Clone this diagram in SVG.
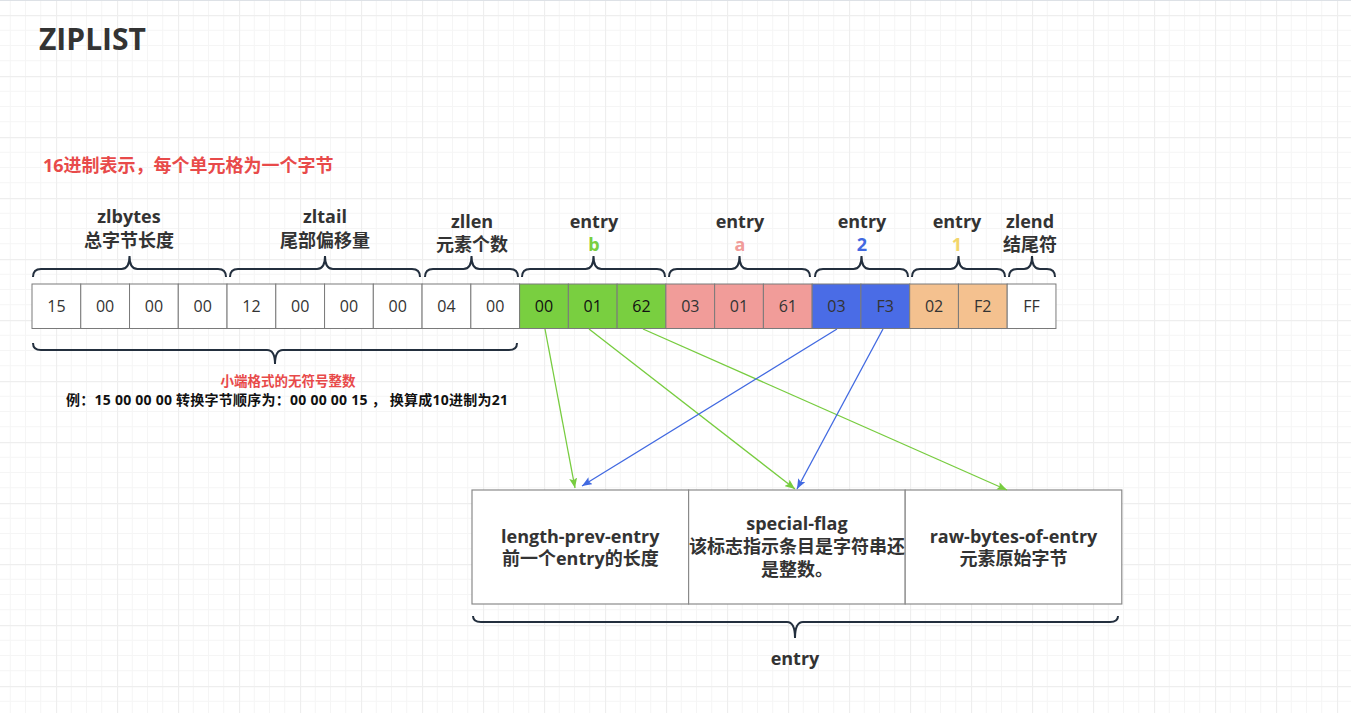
<svg xmlns="http://www.w3.org/2000/svg" width="1351" height="713" viewBox="0 0 1351 713">
<defs>
<pattern id="grid" patternUnits="userSpaceOnUse" x="-5" y="15" width="61" height="61">
<path d="M15.25 0V61M30.5 0V61M45.75 0V61M0 15.25H61M0 30.5H61M0 45.75H61" stroke="#f5f5f5" stroke-width="1" fill="none"/>
<path d="M0.5 0V61M0 0.5H61" stroke="#eeeeee" stroke-width="1.3" fill="none"/>
</pattern>
<marker id="ag" viewBox="0 0 10 8" refX="10" refY="4" markerWidth="10" markerHeight="8" markerUnits="userSpaceOnUse" orient="auto">
<path d="M0 0L10 4L0 8L2 4z" fill="#77CC3F"/>
</marker>
<marker id="ab" viewBox="0 0 10 8" refX="10" refY="4" markerWidth="10" markerHeight="8" markerUnits="userSpaceOnUse" orient="auto">
<path d="M0 0L10 4L0 8L2 4z" fill="#4169E1"/>
</marker>
</defs>
<style>
.cell{stroke:#7a7a7a;stroke-width:1}
.w{fill:#ffffff}.g{fill:#79CF40}.p{fill:#F19C99}.b{fill:#4A6CE6}.o{fill:#F4C18F}
.num{font-family:"Open Sans","Noto Sans",sans-serif;font-size:16px;fill:#333;text-anchor:middle}
.dk{fill:#111}
.lbl{font-family:"Open Sans","Noto Sans CJK SC",sans-serif;font-weight:bold;font-size:18px;fill:#333;text-anchor:middle}
.cg{fill:#79CF40}.cp{fill:#F19C99}.cb{fill:#4169E1}.cy{fill:#F2D56A}
.brace{fill:none;stroke:#232F3E;stroke-width:2}
.box{fill:#ffffff;stroke:#8a8a8a;stroke-width:1.2}
.gl{stroke:#77CC3F;stroke-width:1.3;fill:none;marker-end:url(#ag)}
.bl{stroke:#4169E1;stroke-width:1.3;fill:none;marker-end:url(#ab)}
</style>
<rect x="0" y="0" width="1351" height="713" fill="#ffffff"/>
<rect x="0" y="0" width="1351" height="713" fill="url(#grid)"/>
<line x1="0" y1="0.5" x2="1351" y2="0.5" stroke="#dde1e6" stroke-width="1"/>

<g id="title">
<text x="39" y="50" font-family="'Open Sans',sans-serif" font-weight="bold" font-size="30" fill="#333">ZIPLIST</text>
</g>
<g id="hex-note">
<text x="43" y="172" font-family="'Open Sans','Noto Sans CJK SC',sans-serif" font-weight="bold" font-size="18" fill="#E84A4A">16进制表示，每个单元格为一个字节</text>
</g>

<g id="cells">
<rect class="cell w" x="32" y="284" width="48.76" height="44.5"/>
<rect class="cell w" x="80.76" y="284" width="48.76" height="44.5"/>
<rect class="cell w" x="129.52" y="284" width="48.76" height="44.5"/>
<rect class="cell w" x="178.28" y="284" width="48.76" height="44.5"/>
<rect class="cell w" x="227.04" y="284" width="48.76" height="44.5"/>
<rect class="cell w" x="275.8" y="284" width="48.76" height="44.5"/>
<rect class="cell w" x="324.56" y="284" width="48.76" height="44.5"/>
<rect class="cell w" x="373.32" y="284" width="48.76" height="44.5"/>
<rect class="cell w" x="422.08" y="284" width="48.76" height="44.5"/>
<rect class="cell w" x="470.84" y="284" width="48.76" height="44.5"/>
<rect class="cell g" x="519.6" y="284" width="48.76" height="44.5"/>
<rect class="cell g" x="568.36" y="284" width="48.76" height="44.5"/>
<rect class="cell g" x="617.12" y="284" width="48.76" height="44.5"/>
<rect class="cell p" x="665.88" y="284" width="48.76" height="44.5"/>
<rect class="cell p" x="714.64" y="284" width="48.76" height="44.5"/>
<rect class="cell p" x="763.4" y="284" width="48.76" height="44.5"/>
<rect class="cell b" x="812.16" y="284" width="48.76" height="44.5"/>
<rect class="cell b" x="860.92" y="284" width="48.76" height="44.5"/>
<rect class="cell o" x="909.68" y="284" width="48.76" height="44.5"/>
<rect class="cell o" x="958.44" y="284" width="48.76" height="44.5"/>
<rect class="cell w" x="1007.2" y="284" width="48.76" height="44.5"/>
<text class="num" x="56.4" y="312">15</text>
<text class="num" x="105.1" y="312">00</text>
<text class="num" x="153.9" y="312">00</text>
<text class="num" x="202.7" y="312">00</text>
<text class="num" x="251.4" y="312">12</text>
<text class="num" x="300.2" y="312">00</text>
<text class="num" x="348.9" y="312">00</text>
<text class="num" x="397.7" y="312">00</text>
<text class="num" x="446.5" y="312">04</text>
<text class="num" x="495.2" y="312">00</text>
<text class="num dk" x="544" y="312">00</text>
<text class="num dk" x="592.7" y="312">01</text>
<text class="num dk" x="641.5" y="312">62</text>
<text class="num" x="690.3" y="312">03</text>
<text class="num" x="739" y="312">01</text>
<text class="num" x="787.8" y="312">61</text>
<text class="num" x="836.5" y="312">03</text>
<text class="num" x="885.3" y="312">F3</text>
<text class="num" x="934.1" y="312">02</text>
<text class="num" x="982.8" y="312">F2</text>
<text class="num" x="1031.6" y="312">FF</text>
</g>

<g id="zlbytes">
<path class="brace" d="M33 277Q33 269 41 269H121.5Q129.5 269 129.5 256Q129.5 269 137.5 269H218Q226 269 226 277"/>
<text class="lbl" x="129" y="223">zlbytes</text>
<text class="lbl" x="129" y="247">总字节长度</text>
</g>
<g id="zltail">
<path class="brace" d="M230 277Q230 269 238 269H317Q325 269 325 256Q325 269 333 269H412Q420 269 420 277"/>
<text class="lbl" x="325" y="223">zltail</text>
<text class="lbl" x="325" y="247">尾部偏移量</text>
</g>
<g id="zllen">
<path class="brace" d="M425 277Q425 269 433 269H463.5Q471.5 269 471.5 256Q471.5 269 479.5 269H510Q518 269 518 277"/>
<text class="lbl" x="472" y="228">zllen</text>
<text class="lbl" x="472" y="251">元素个数</text>
</g>
<g id="entry-b">
<path class="brace" d="M522 277Q522 269 530 269H585.5Q593.5 269 593.5 256Q593.5 269 601.5 269H657Q665 269 665 277"/>
<text class="lbl" x="594" y="228">entry</text>
<text class="lbl cg" x="594" y="251">b</text>
</g>
<g id="entry-a">
<path class="brace" d="M669 277Q669 269 677 269H731.5Q739.5 269 739.5 256Q739.5 269 747.5 269H802Q810 269 810 277"/>
<text class="lbl" x="740" y="228">entry</text>
<text class="lbl cp" x="740" y="251">a</text>
</g>
<g id="entry-2">
<path class="brace" d="M815 277Q815 269 823 269H853.5Q861.5 269 861.5 256Q861.5 269 869.5 269H900Q908 269 908 277"/>
<text class="lbl" x="862" y="228">entry</text>
<text class="lbl cb" x="862" y="251">2</text>
</g>
<g id="entry-1">
<path class="brace" d="M912 277Q912 269 920 269H950.5Q958.5 269 958.5 256Q958.5 269 966.5 269H997Q1005 269 1005 277"/>
<text class="lbl" x="957" y="228">entry</text>
<text class="lbl cy" x="957" y="251">1</text>
</g>
<g id="zlend">
<path class="brace" d="M1009 277Q1009 269 1017 269H1024Q1032 269 1032 256Q1032 269 1040 269H1047Q1055 269 1055 277"/>
<text class="lbl" x="1030" y="228">zlend</text>
<text class="lbl" x="1030" y="251">结尾符</text>
</g>

<g id="header-brace">
<path class="brace" d="M33 343Q33 350 41 350H267Q275 350 275 364Q275 350 283 350H509Q517 350 517 343"/>
<text x="288" y="386" font-family="'Open Sans','Noto Sans CJK SC',sans-serif" font-weight="bold" font-size="13.5" fill="#E84A4A" text-anchor="middle">小端格式的无符号整数</text>
<text x="287" y="405" font-family="'Open Sans','Noto Sans CJK SC',sans-serif" font-weight="bold" font-size="14" fill="#111" text-anchor="middle" textLength="442" lengthAdjust="spacing">例：15 00 00 00 转换字节顺序为：00 00 00 15 ， 换算成10进制为21</text>
</g>

<g id="length-prev-entry">
<rect class="box" x="472" y="490" width="216.6" height="114"/>
<text class="lbl" x="580.3" y="543">length-prev-entry</text>
<text class="lbl" x="580.3" y="565">前一个entry的长度</text>
</g>
<g id="special-flag">
<rect class="box" x="688.6" y="490" width="216.6" height="114"/>
<text class="lbl" x="796.9" y="530">special-flag</text>
<text class="lbl" x="796.9" y="553">该标志指示条目是字符串还</text>
<text class="lbl" x="796.9" y="576">是整数。</text>
</g>
<g id="raw-bytes-of-entry">
<rect class="box" x="905.2" y="490" width="216.6" height="114"/>
<text class="lbl" x="1013.5" y="543">raw-bytes-of-entry</text>
<text class="lbl" x="1013.5" y="565">元素原始字节</text>
</g>
<g id="entry-brace">
<path class="brace" d="M473 616Q473 622 481 622H787Q795 622 795 638Q795 622 803 622H1110Q1118 622 1118 616"/>
<text class="lbl" x="795" y="665">entry</text>
</g>

<g id="connectors">
<line class="gl" x1="545" y1="329" x2="575" y2="488"/>
<line class="gl" x1="589" y1="329" x2="795" y2="489"/>
<line class="gl" x1="643" y1="329" x2="1007" y2="490"/>
<line class="bl" x1="837" y1="329" x2="582" y2="486"/>
<line class="bl" x1="883" y1="329" x2="797" y2="489"/>
</g>
</svg>
